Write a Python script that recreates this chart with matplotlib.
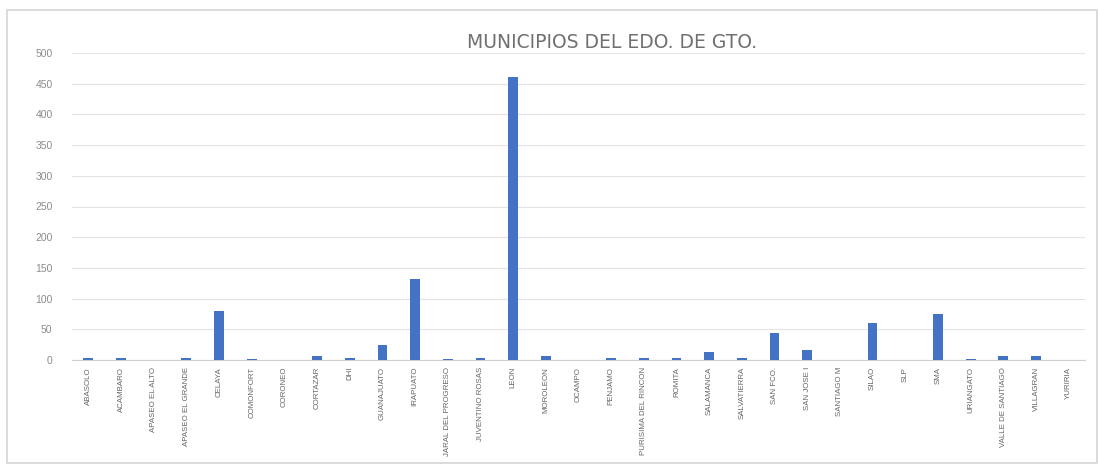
import matplotlib
matplotlib.use("Agg")
import matplotlib.pyplot as plt

categories = ["ABASOLO", "ACAMBARO", "APASEO EL ALTO", "APASEO EL GRANDE", "CELAYA",
              "COMONFORT", "CORONEO", "CORTAZAR", "DHI", "GUANAJUATO", "IRAPUATO",
              "JARAL DEL PROGRESO", "JUVENTINO ROSAS", "LEON", "MOROLEON", "OCAMPO",
              "PENJAMO", "PURISIMA DEL RINCON", "ROMITA", "SALAMANCA", "SALVATIERRA",
              "SAN FCO.", "SAN JOSE I", "SANTIAGO M", "SILAO", "SLP", "SMA",
              "URIANGATO", "VALLE DE SANTIAGO", "VILLAGRAN", "YURIRIA"]
values = [4, 3, 0, 4, 79, 2, 0, 6, 4, 24, 132, 1, 4, 461, 7, 0, 4, 4, 3, 13, 3,
          44, 16, 0, 60, 0, 75, 1, 6, 6, 0]
yticks = [0, 50, 100, 150, 200, 250, 300, 350, 400, 450, 500]
title = "MUNICIPIOS DEL EDO. DE GTO."

fig = plt.figure(figsize=(10.98, 4.68), dpi=100)
ax = fig.add_axes([72/1098, 1-360/468, (1085-72)/1098, (360-53)/468])

x = list(range(len(categories)))
ax.bar(x, values, width=0.3, color="#4472C4", zorder=3)
ax.set_xlim(-0.5, len(categories)-0.5)
ax.set_ylim(0, 500)
ax.set_yticks(yticks)
ax.set_yticklabels([str(v) for v in yticks], fontsize=7.5, color="#8c8c8c", family="Liberation Sans")
ax.set_xticks(x)
ax.set_xticklabels(categories, rotation=90, fontsize=5.7, color="#666666", family="Liberation Sans", va="top")
ax.tick_params(axis="y", length=0, pad=14)
ax.tick_params(axis="x", length=0, pad=5)
ax.grid(axis="y", color="#e3e3e3", linewidth=0.8, zorder=0)
for s in ["top", "right", "left"]:
    ax.spines[s].set_visible(False)
ax.spines["bottom"].set_color("#d0d0d0")

fig.text(612/1098, 1-42/468, title, ha="center", va="center", fontsize=13.5,
         color="#707070", family="DejaVu Sans")

# outer chart border
border = plt.Rectangle((7/1098, 1-463/468), (1097-7)/1098, (463-10)/468, transform=fig.transFigure,
                       fill=False, edgecolor="#d4d4d4", linewidth=1.2)
fig.patches.append(border)

fig.savefig("out.png", dpi=100)
